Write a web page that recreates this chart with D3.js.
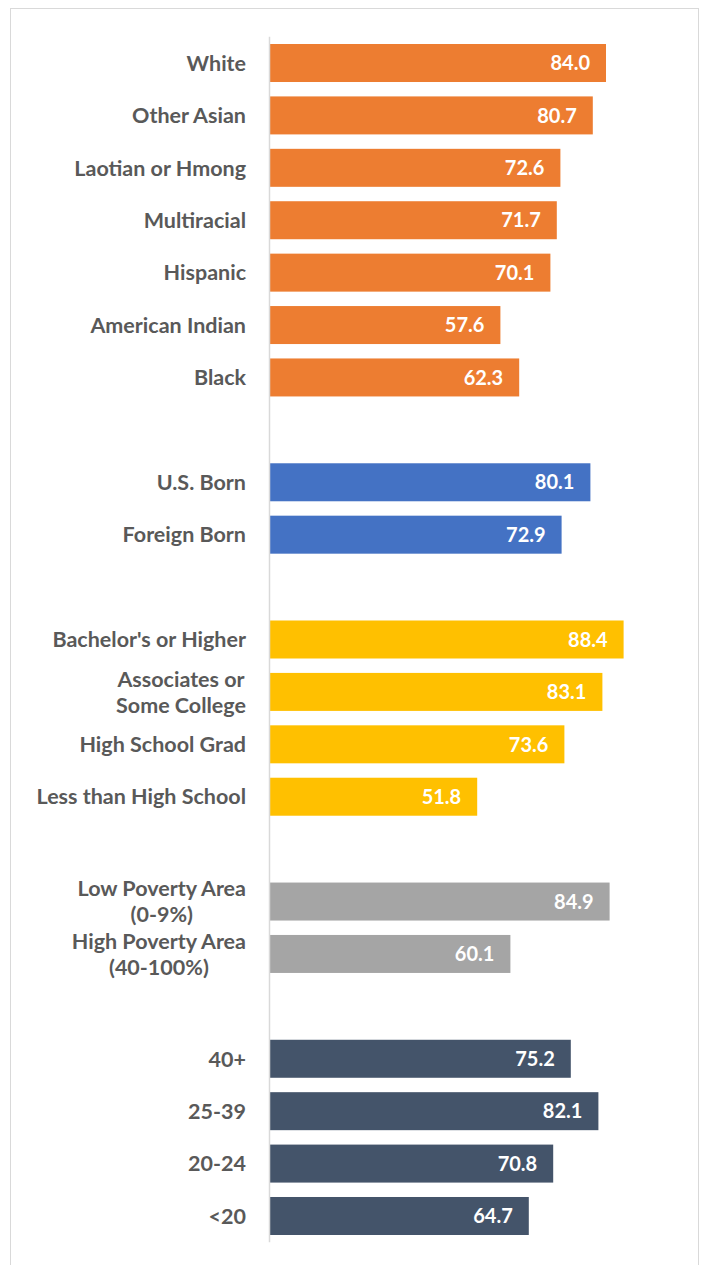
<!DOCTYPE html>
<html>
<head>
<meta charset="utf-8">
<script src="https://cdn.jsdelivr.net/npm/d3@7"></script>
<style>
  html, body { margin: 0; padding: 0; background: #fff; }
  svg { display: block; }
</style>
</head>
<body>
<svg id="chart" width="704" height="1265"></svg>
<script>
// Category labels (wrapped labels use "\n"), grouped; blank rows separate groups
const raceLabels = ["White", "Other Asian", "Laotian or Hmong", "Multiracial", "Hispanic", "American Indian", "Black"];
const raceValues = [84.0, 80.7, 72.6, 71.7, 70.1, 57.6, 62.3];

const nativityLabels = ["U.S. Born", "Foreign Born"];
const nativityValues = [80.1, 72.9];

const educationLabels = ["Bachelor's or Higher", "Associates or\nSome College", "High School Grad", "Less than High School"];
const educationValues = [88.4, 83.1, 73.6, 51.8];

const povertyLabels = ["Low Poverty Area\n(0-9%)", "High Poverty Area\n(40-100%)"];
const povertyValues = [84.9, 60.1];

const ageLabels = ["40+", "25-39", "20-24", "<20"];
const ageValues = [75.2, 82.1, 70.8, 64.7];

const groupColors = ["#ED7D31", "#4472C4", "#FFC000", "#A5A5A5", "#44546A"];

const groups = [
  [raceLabels, raceValues],
  [nativityLabels, nativityValues],
  [educationLabels, educationValues],
  [povertyLabels, povertyValues],
  [ageLabels, ageValues]
];

// Flatten into rows, inserting a spacer key between groups
const rows = [];
const bandKeys = [];
groups.forEach(([labels, values], gi) => {
  if (gi > 0) bandKeys.push("gap" + gi);
  labels.forEach((label, i) => {
    const key = gi + ":" + label;
    bandKeys.push(key);
    rows.push({ key, label, value: values[i], color: groupColors[gi] });
  });
});

const svg = d3.select("#chart");

// Chart frame
svg.append("rect")
  .attr("x", 10.5).attr("y", 8.5)
  .attr("width", 688).attr("height", 1270)
  .attr("fill", "#fff")
  .attr("stroke", "#D9D9D9")
  .attr("stroke-width", 1);

const x = d3.scaleLinear().domain([0, 100]).range([270, 670]);
const y = d3.scaleBand()
  .domain(bandKeys)
  .range([36.8, 1242.2])
  .paddingInner(0.275)
  .paddingOuter(0.1375);

// Bars
svg.append("g").selectAll("rect")
  .data(rows)
  .join("rect")
  .attr("x", x(0))
  .attr("y", d => y(d.key))
  .attr("width", d => x(d.value) - x(0))
  .attr("height", y.bandwidth())
  .attr("fill", d => d.color);

// Vertical category axis line
svg.append("line")
  .attr("x1", 269.5).attr("x2", 269.5)
  .attr("y1", y.range()[0]).attr("y2", y.range()[1])
  .attr("stroke", "#D9D9D9")
  .attr("stroke-width", 1.5);

const fontFamily = "Lato, 'Open Sans', sans-serif";

// Value labels inside bar ends
svg.append("g").selectAll("text")
  .data(rows)
  .join("text")
  .attr("x", d => x(d.value) - 16)
  .attr("y", d => y(d.key) + y.bandwidth() / 2)
  .attr("dy", "0.36em")
  .attr("text-anchor", "end")
  .attr("fill", "#fff")
  .attr("font-family", fontFamily)
  .attr("font-weight", "bold")
  .attr("font-size", 20)
  .text(d => d.value.toFixed(1));

// Category labels: lines centered within a right-aligned block
const labelRight = 246;
const lineHeight = 26;
const catG = svg.append("g");
rows.forEach(d => {
  const lines = d.label.split("\n");
  const cy = y(d.key) + y.bandwidth() / 2;
  const t = catG.append("text")
    .attr("font-family", fontFamily)
    .attr("font-weight", "bold")
    .attr("font-size", 21.5)
    .attr("fill", "#595959")
    .attr("text-anchor", "middle");
  const spans = lines.map((line, i) => t.append("tspan")
    .attr("y", cy + (i - (lines.length - 1) / 2) * lineHeight)
    .attr("dy", "0.36em")
    .text(line));
  const widths = spans.map(s => s.node().getComputedTextLength());
  const blockW = d3.max(widths);
  spans.forEach(s => s.attr("x", labelRight - blockW / 2));
});
</script>
</body>
</html>
